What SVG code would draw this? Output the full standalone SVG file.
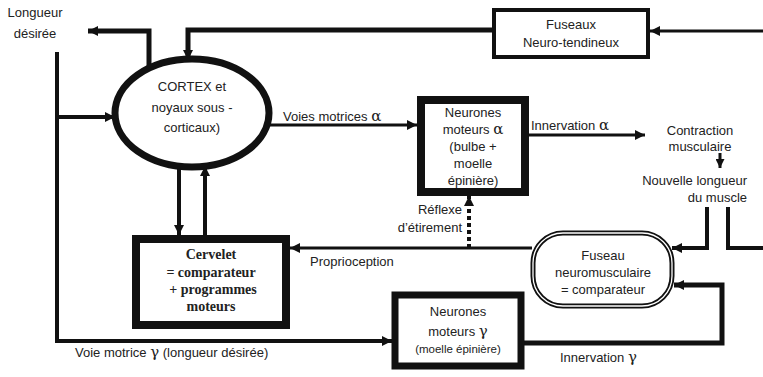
<svg xmlns="http://www.w3.org/2000/svg" width="763" height="377" viewBox="0 0 763 377">
<style>
.t{font-family:"Liberation Sans",Arial,sans-serif;font-size:13px;fill:#222}
.s{font-size:11.5px}
.b{font-family:"Liberation Serif","Times New Roman",serif;font-size:14px;font-weight:bold;fill:#222}
.g{font-family:"DejaVu Serif",serif;font-size:15px;fill:#222}
.w{fill:none;stroke:#111;stroke-linejoin:miter;stroke-linecap:butt}
</style>
<defs>
<marker id="ah" viewBox="0 0 10 10" refX="10" refY="5" markerWidth="10" markerHeight="10" markerUnits="userSpaceOnUse" orient="auto"><path d="M0,0L10,5L0,10z" fill="#111"/></marker>
<marker id="ahs" viewBox="0 0 10 10" refX="10" refY="5" markerWidth="9" markerHeight="9" markerUnits="userSpaceOnUse" orient="auto"><path d="M0,0L10,5L0,10z" fill="#111"/></marker>
</defs>
<rect width="763" height="377" fill="#fff"/>

<g id="connectors">
<path class="w" stroke-width="5" d="M149,70V31H88" marker-end="url(#ah)"/>
<path class="w" stroke-width="5" d="M492,30H188V60" marker-end="url(#ah)"/>
<path class="w" stroke-width="3" d="M763,31H650" marker-end="url(#ah)"/>
<path class="w" stroke-width="4" d="M57,52V341H392" marker-end="url(#ah)"/>
<path class="w" stroke-width="4" d="M57,117H115" marker-end="url(#ah)"/>
<path class="w" stroke-width="3" d="M269,125H417" marker-end="url(#ah)"/>
<path class="w" stroke-width="3" d="M529,135H645" marker-end="url(#ah)"/>
<path class="w" stroke-width="3" d="M720,153V168" marker-end="url(#ahs)"/>
<path class="w" stroke-width="4" d="M179,166V235" marker-end="url(#ah)"/>
<path class="w" stroke-width="4" d="M205,235V166" marker-end="url(#ah)"/>
<path class="w" stroke-width="3" d="M532,248H290" marker-end="url(#ah)"/>
<path class="w" stroke-width="4" stroke-dasharray="4,3" d="M469,248V196" marker-end="url(#ah)"/>
<path class="w" stroke-width="4" d="M707,207V248H672" marker-end="url(#ah)"/>
<path class="w" stroke-width="4" d="M728,207V248H763"/>
<path class="w" stroke-width="5" d="M524,343H722V285H674" marker-end="url(#ah)"/>
</g>

<g id="longueur-desiree">
<text class="t" x="35" y="17" text-anchor="middle">Longueur</text>
<text class="t" x="35" y="38" text-anchor="middle">désirée</text>
</g>

<g id="fuseaux-neuro-tendineux">
<rect x="494" y="10" width="154" height="47" fill="#fff" stroke="#111" stroke-width="4"/>
<text class="t" x="571" y="29" text-anchor="middle">Fuseaux</text>
<text class="t" x="571" y="47" text-anchor="middle">Neuro-tendineux</text>
</g>

<g id="cortex">
<ellipse cx="192" cy="113" rx="77" ry="54" fill="#fff" stroke="#111" stroke-width="7"/>
<text class="t" x="192" y="91" text-anchor="middle">CORTEX et</text>
<text class="t" x="192" y="112" text-anchor="middle">noyaux sous -</text>
<text class="t" x="192" y="132" text-anchor="middle">corticaux)</text>
</g>

<g id="voies-motrices-label">
<text class="t" x="283" y="121">Voies motrices <tspan class="g">α</tspan></text>
</g>

<g id="neurones-alpha">
<rect x="421" y="100" width="104" height="92" fill="#fff" stroke="#111" stroke-width="8"/>
<text class="t" x="473" y="117" text-anchor="middle">Neurones</text>
<text class="t" x="473" y="134" text-anchor="middle">moteurs <tspan class="g">α</tspan></text>
<text class="t" x="473" y="151" text-anchor="middle">(bulbe +</text>
<text class="t" x="473" y="168" text-anchor="middle">moelle</text>
<text class="t" x="473" y="185" text-anchor="middle">épinière)</text>
</g>

<g id="innervation-alpha-label">
<text class="t" x="531" y="130">Innervation  <tspan class="g">α</tspan></text>
</g>

<g id="contraction">
<text class="t" x="700" y="135" text-anchor="middle">Contraction</text>
<text class="t" x="700" y="151" text-anchor="middle">musculaire</text>
</g>

<g id="nouvelle-longueur">
<text class="t" x="747" y="185" text-anchor="end">Nouvelle longueur</text>
<text class="t" x="747" y="202" text-anchor="end">du muscle</text>
</g>

<g id="reflexe-label">
<text class="t" x="462" y="214" text-anchor="end">Réflexe</text>
<text class="t" x="462" y="232" text-anchor="end">d’étirement</text>
</g>

<g id="proprioception-label">
<text class="t" x="310" y="266">Proprioception</text>
</g>

<g id="cervelet">
<rect x="136" y="239" width="150" height="86" fill="#fff" stroke="#111" stroke-width="8"/>
<text class="b" x="211" y="259" text-anchor="middle">Cervelet</text>
<text class="b" x="211" y="277" text-anchor="middle">= comparateur</text>
<text class="b" x="213" y="294" text-anchor="middle">+ programmes</text>
<text class="b" x="211" y="311" text-anchor="middle">moteurs</text>
</g>

<g id="fuseau-neuromusculaire">
<rect x="533" y="233" width="139" height="73" rx="30" ry="30" fill="#fff" stroke="#111" stroke-width="5"/>
<rect x="533" y="233" width="139" height="73" rx="30" ry="30" fill="none" stroke="#fff" stroke-width="1.3"/>
<text class="t" x="603" y="260" text-anchor="middle">Fuseau</text>
<text class="t" x="603" y="277" text-anchor="middle">neuromusculaire</text>
<text class="t" x="603" y="294" text-anchor="middle">= comparateur</text>
</g>

<g id="neurones-gamma">
<rect x="395" y="295" width="126" height="71" fill="#fff" stroke="#111" stroke-width="7"/>
<text class="t" x="458" y="316" text-anchor="middle">Neurones</text>
<text class="t" x="458" y="336" text-anchor="middle">moteurs   <tspan class="g">γ</tspan></text>
<text class="t s" x="458" y="353" text-anchor="middle">(moelle épinière)</text>
</g>

<g id="innervation-gamma-label">
<text class="t" x="560" y="362">Innervation  <tspan class="g">γ</tspan></text>
</g>

<g id="voie-motrice-gamma-label">
<text class="t" x="75" y="357">Voie motrice <tspan class="g">γ</tspan>  (longueur désirée)</text>
</g>
</svg>
